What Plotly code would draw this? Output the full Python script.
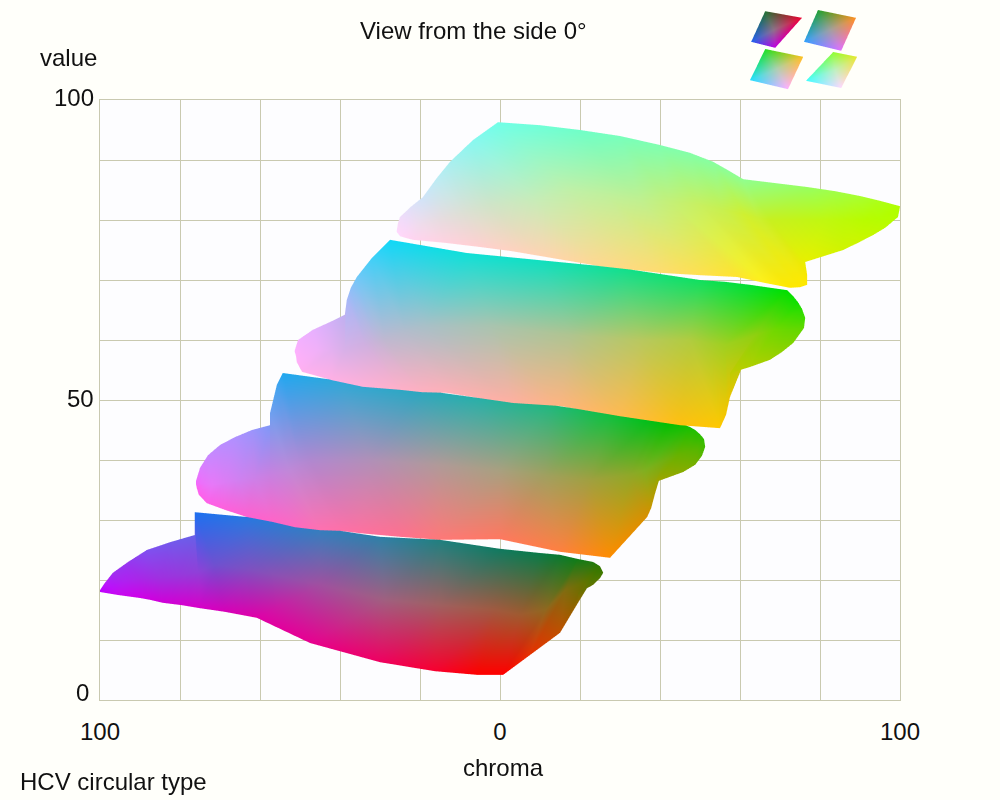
import plotly.graph_objects as go

# slabs are stored station by station, left to right: top, middle, bottom
slab1_chroma = [-100, -100, -100,
                -98.8, -97, -95.5,
                -96.8, -93.8, -90,
                -93, -90, -87.5,
                -88.3, -85, -84.3,
                -82.5, -80, -79.5,
                -76.3, -75.5, -75,
                -76.3, -71.3, -68.8,
                -63.3, -62.5, -60.8,
                -45, -45, -47.5,
                -30, -28.8, -30,
                -15, -15, -16.3,
                0, -1.3, -5.8,
                10, 5, 0.8,
                15, 11.3, 7.5,
                19.5, 16.3, 15,
                23.3, 21.3, 19.5,
                25, 23, 19.5,
                25.8, 25, 23.3]
slab1_value = [18.3, 18.2, 18,
               19.5, 18.7, 17.5,
               21.2, 19.7, 17,
               23, 20.3, 16.7,
               25, 20.3, 16.2,
               26.3, 20.8, 15.8,
               27.5, 21.3, 15.3,
               31.3, 22.5, 14.7,
               30.5, 21.7, 13.7,
               28.7, 19.2, 9.5,
               27.2, 16.7, 6.3,
               26.7, 15.8, 4.8,
               25.2, 15, 4.2,
               24.5, 14.2, 4.2,
               24.2, 15, 7.5,
               23.5, 18.3, 11.2,
               23, 19.7, 16.2,
               22.3, 20, 17.8,
               21.2, 20.3, 19.2]
slab1_colors = ['#c000ff', '#c000ff', '#c000ff',
                '#b818fc', '#bc10fa', '#c808f0',
                '#a030f0', '#b020f0', '#d000e8',
                '#9638f0', '#a828e8', '#d000e0',
                '#8050f0', '#a030e0', '#d000d8',
                '#7458ec', '#9838dc', '#d400d0',
                '#6860e8', '#9040d8', '#d800c8',
                '#1e70f0', '#7050d0', '#d800b8',
                '#2878e0', '#8050c0', '#e000a8',
                '#3080c0', '#a050a0', '#e80090',
                '#2f80a8', '#a06080', '#f00060',
                '#208080', '#a06060', '#f80030',
                '#107a60', '#a05a40', '#ff0000',
                '#0a7a48', '#a05a30', '#ff0000',
                '#0a7a30', '#906820', '#e83000',
                '#107c18', '#806c10', '#c05000',
                '#207a10', '#607400', '#906800',
                '#307800', '#507800', '#707000',
                '#407800', '#507800', '#607400']

slab2_chroma = [-76, -76, -75.8,
                -75, -74, -75.3,
                -73, -72, -73.3,
                -70, -68.5, -68.8,
                -66.3, -65, -63.3,
                -62, -61.3, -57,
                -57.5, -57.5, -51.3,
                -57.5, -52.5, -45,
                -55.8, -50, -40,
                -54.3, -47.5, -35,
                -40, -32.5, -25,
                -20, -15, -15,
                -5, 0, 0,
                12.5, 11.3, 15,
                27.5, 22.5, 27.5,
                37.5, 32.5, 36.8,
                40, 34.5, 37.8,
                42.5, 36.3, 38.8,
                46.3, 41.3, 38.8,
                47.5, 44.5, 42.5,
                48.8, 47, 45.8,
                50, 49.3, 48.8,
                51, 51.3, 50.5]
slab2_value = [36.5, 36, 35.3,
               38.7, 36, 34.2,
               40.8, 35.8, 32.8,
               42.5, 36.3, 31.7,
               43.8, 36.7, 30.5,
               45, 37, 29.7,
               45.8, 37.5, 28.8,
               47.8, 38.3, 28.3,
               52.5, 39.2, 28.2,
               54.5, 40, 27.8,
               53.2, 40, 27.2,
               51.7, 39.2, 26.7,
               50.3, 38.3, 26.8,
               49.2, 37.5, 24.7,
               47.7, 36.7, 23.7,
               46.7, 37.5, 30.5,
               46.5, 38, 32,
               46.3, 38.3, 34.5,
               45.8, 40, 36.3,
               45.5, 40.8, 37.2,
               45, 41.3, 38,
               44.3, 41.7, 39.2,
               43.5, 42.2, 40.7]
slab2_colors = ['#f070ff', '#f468fc', '#ff60f0',
                '#dc7cff', '#ec72fa', '#ff60ec',
                '#c888ff', '#e878f8', '#ff60e8',
                '#bc8cff', '#dc7cf4', '#ff60dc',
                '#b090ff', '#d080f0', '#ff60d0',
                '#9c94fc', '#cc80e8', '#ff64c8',
                '#8098f8', '#c880e0', '#ff68c0',
                '#70a0f0', '#c088d8', '#ff70b0',
                '#40a4f0', '#b888d4', '#ff70a8',
                '#20a8f0', '#b088d0', '#ff70a0',
                '#30a8d8', '#b090b8', '#ff7090',
                '#28a8c0', '#b09a98', '#ff7878',
                '#28b0a8', '#a8a080', '#ff7860',
                '#20b880', '#a0a060', '#ff8040',
                '#10c040', '#a0a040', '#ff8c00',
                '#00c018', '#90a828', '#d89000',
                '#00c00c', '#88ac24', '#c89600',
                '#00c000', '#80b020', '#b09c00',
                '#10c000', '#70b010', '#a0a400',
                '#18c000', '#68b200', '#94a800',
                '#20c000', '#60b400', '#88ac00',
                '#28be00', '#58b600', '#78ae00',
                '#30be00', '#40bc00', '#58b800']

slab3_chroma = [-51.3, -51.3, -51,
                -50.5, -49.5, -50.8,
                -46.8, -45.5, -49.5,
                -42.5, -42, -42,
                -38.8, -38.8, -34.3,
                -38.3, -33.8, -25,
                -37.3, -31.3, -19.5,
                -35.8, -28.8, -13.3,
                -32, -23.8, -5,
                -27.5, -18.8, 3.3,
                -8.3, -2.5, 15,
                10, 17.5, 30,
                30, 35, 45,
                50, 47.5, 55,
                56.3, 51.8, 56.5,
                62.5, 56.3, 57.5,
                71.8, 63.8, 57.5,
                73.3, 66.3, 62.5,
                74.5, 68.8, 67.5,
                75.5, 72, 70.5,
                76.3, 76, 73.3]
slab3_value = [58.3, 58, 57.3,
               60, 58, 56.3,
               61.7, 58.3, 54.7,
               63, 58.3, 53.3,
               64.2, 58.3, 52.2,
               66.7, 59.2, 51.7,
               68.7, 59.7, 51.3,
               70.5, 60, 51.2,
               73.7, 61.3, 50.3,
               76.7, 62.5, 49.5,
               74.5, 62.5, 49,
               73.3, 60.8, 47.3,
               72, 60, 45.8,
               70, 60, 45.3,
               69.7, 59.5, 47.5,
               69.2, 59.2, 50.5,
               68.3, 60.8, 54.5,
               67.3, 61.3, 55.5,
               66.3, 61.7, 56.7,
               65.2, 61.7, 58,
               63.7, 62, 59.5]
slab3_colors = ['#ffb0ff', '#ffb0ff', '#ffb0fc',
                '#f4b0ff', '#f8b0fa', '#ffb0f8',
                '#e8b0ff', '#f0b0f8', '#ffb0f0',
                '#d4b0f8', '#e4b0f0', '#ffb0e4',
                '#c0b0f0', '#d8b0e8', '#ffb0d8',
                '#a8b8f8', '#d0b0e0', '#ffb0c8',
                '#8cc0f8', '#c8b4d8', '#ffb0c0',
                '#70c8f8', '#c0b8d0', '#ffb0b8',
                '#40d0f8', '#b4bccc', '#ffb0ac',
                '#10d8f8', '#a8c0c8', '#ffb0a0',
                '#10e0d8', '#a8c4b0', '#ffb480',
                '#10e0c0', '#b0c490', '#ffba50',
                '#10e090', '#b8c860', '#ffc010',
                '#10e060', '#b0cc40', '#ffc800',
                '#08e048', '#a8ce30', '#f4c600',
                '#00e030', '#a0d020', '#e8c400',
                '#00e000', '#90d010', '#c0cc00',
                '#08e000', '#80d408', '#b0d000',
                '#10e000', '#70d800', '#a0d000',
                '#28de00', '#68d800', '#90d200',
                '#40dc00', '#60d800', '#80d400']

slab4_chroma = [-25.8, -25.8, -25,
                -25.5, -24.5, -23.5,
                -25, -23.8, -21.8,
                -22.3, -20, -13.8,
                -19.3, -15, -5,
                -15.8, -8.8, 3,
                -12.5, -2.5, 11.8,
                -6.8, 8.8, 25,
                -0.5, 17.5, 40,
                10, 26.3, 50,
                20, 35, 59.3,
                30, 42.5, 66.3,
                40, 50, 72.5,
                47.5, 55.5, 75,
                53.3, 61.3, 76.8,
                57, 64.5, 76.8,
                60.8, 67.5, 76.3,
                76.8, 81.3, 85.8,
                83.8, 86.3, 89.5,
                90, 91.3, 93.3,
                95, 95.5, 96.3,
                100, 99.8, 99.5]
slab4_value = [78.3, 78, 77.3,
               79.5, 78, 77,
               80.5, 78.3, 76.7,
               82.2, 79.2, 76.2,
               83.8, 80, 75.5,
               87, 81.3, 74.8,
               89.7, 82.5, 73.8,
               93.3, 83.3, 72.3,
               96.3, 85, 71.2,
               95.8, 84.2, 70.8,
               95, 83.3, 70.5,
               94, 83, 69.5,
               92.5, 82.5, 68.7,
               91.2, 81.7, 68.8,
               89.7, 80.8, 69.2,
               88.3, 80.3, 70.8,
               86.8, 80, 73,
               85.5, 80, 75,
               84.8, 80, 76.2,
               84, 80, 77.5,
               83.2, 80.3, 78.7,
               82.3, 81.5, 80.5]
slab4_colors = ['#ffd8ff', '#ffd8ff', '#ffd8fc',
                '#f8daf8', '#fcd8f8', '#ffd6f4',
                '#f0dcfa', '#fad8f8', '#ffd4f0',
                '#e0e0f8', '#f0dcec', '#ffd2e0',
                '#d0e4f8', '#e8dce0', '#ffd0d0',
                '#bcecf4', '#dce0d4', '#ffd2c0',
                '#a8f0f0', '#d0e4c8', '#ffd4b0',
                '#88f8f0', '#c8ecb8', '#ffd890',
                '#70ffe8', '#c0f0a8', '#ffdc70',
                '#70ffd8', '#c0f09c', '#ffe050',
                '#70ffc8', '#c0f090', '#ffe430',
                '#78ffbc', '#c4f078', '#fff018',
                '#80ffb0', '#c8f060', '#ffe800',
                '#84ffa8', '#c8f050', '#ffe800',
                '#88ffa0', '#d0f030', '#ffe800',
                '#8cff98', '#ccf030', '#f8e800',
                '#90ff90', '#c8f020', '#e8f000',
                '#98ff60', '#c0f810', '#d0f400',
                '#a0ff48', '#bcfa08', '#ccf600',
                '#a8ff30', '#b8fc00', '#c4f800',
                '#acff18', '#b4fe00', '#bcfb00',
                '#b0ff00', '#b0ff00', '#b0ff00']

# small previews in the top right corner: corners clockwise, then the centre
thumb_chroma = [[66.3, 75.5, 68.8, 62.8, 68.5],
                [79.5, 89, 85.3, 76, 82.5],
                [66.3, 75.8, 72, 62.5, 69.3],
                [83.3, 89.3, 85.3, 76.5, 83.8]]
thumb_value = [[114.8, 113.7, 108.7, 109.7, 111.7],
               [115, 113.7, 108.2, 109.7, 111.7],
               [108.5, 107.2, 101.8, 103.3, 105.2],
               [108, 107.2, 102, 103.2, 105]]
thumb_colors = [['#207030', '#f00030', '#c000e0', '#2060f0', '#907088'],
                ['#20a030', '#ff9020', '#e070ff', '#30a0ff', '#a0a0a0'],
                ['#20e020', '#ffc020', '#ffb0ff', '#20e0ff', '#b0d0b0'],
                ['#90ff30', '#e8e830', '#ffd8ff', '#40ffff', '#c0f0c0']]

chroma_ticks = [-100, -80, -60, -40, -20, 0, 20, 40, 60, 80, 100]
chroma_labels = ['100', '', '', '', '', '0', '', '', '', '', '100']
value_ticks = [0, 10, 20, 30, 40, 50, 60, 70, 80, 90, 100]
value_labels = [(100, '100', 0.0955, 3), (50, '50', 0.0955, 2), (0, '0', 0.0905, 8)]

FLAT = dict(ambient=1, diffuse=0, specular=0, roughness=1, fresnel=0)


def slab_mesh(chroma, value, colors):
    ii, jj, kk = [], [], []
    for c in range(len(chroma) // 3 - 1):
        for r in range(2):
            a = c * 3 + r
            ii += [a, a + 1]
            jj += [a + 3, a + 3]
            kk += [a + 1, a + 4]
    return go.Mesh3d(x=chroma, y=value, z=[0] * len(chroma), i=ii, j=jj, k=kk,
                     vertexcolor=colors, lighting=FLAT, hoverinfo='skip', showscale=False)


def thumb_mesh(chroma, value, colors):
    return go.Mesh3d(x=chroma, y=value, z=[0] * 5, i=[4, 4, 4, 4], j=[0, 1, 2, 3], k=[1, 2, 3, 0],
                     vertexcolor=colors, lighting=FLAT, hoverinfo='skip', showscale=False)


fig = go.Figure()
# invisible trace so the 2D axes with the grid get drawn
fig.add_trace(go.Scatter(x=[-100, 100], y=[0, 100], mode='markers', marker=dict(opacity=0),
                         hoverinfo='skip', showlegend=False))
fig.add_trace(slab_mesh(slab1_chroma, slab1_value, slab1_colors))
fig.add_trace(slab_mesh(slab2_chroma, slab2_value, slab2_colors))
fig.add_trace(slab_mesh(slab3_chroma, slab3_value, slab3_colors))
fig.add_trace(slab_mesh(slab4_chroma, slab4_value, slab4_colors))
for n in range(4):
    fig.add_trace(thumb_mesh(thumb_chroma[n], thumb_value[n], thumb_colors[n]))

font = dict(family='Liberation Sans', size=24, color='#111111')
annotations = [
    dict(text='View from the side 0°', x=0.473, y=1 - 31 / 800),
    dict(text='value', x=0.0685, y=1 - 57 / 800),
    dict(text='chroma', x=0.503, y=1 - 767 / 800),
    dict(text='HCV circular type', x=0.1135, y=1 - 781 / 800),
]
for v, label, lx, shift in value_labels:
    annotations.append(dict(text=label, x=lx, xanchor='right',
                            y=0.125 + 0.75 * v / 100, yshift=shift))
for a in annotations:
    a.update(xref='paper', yref='paper', showarrow=False, font=font, yanchor='middle')
    a.setdefault('xanchor', 'center')

fig.update_layout(
    width=1000, height=800, autosize=False,
    margin=dict(l=0, r=0, t=0, b=0, autoexpand=False),
    paper_bgcolor='#fffffa', plot_bgcolor='#fdfdff',
    showlegend=False,
    annotations=annotations,
    xaxis=dict(domain=[0.1, 0.9], range=[-100, 100], tickmode='array', tickvals=chroma_ticks,
               ticktext=chroma_labels, showgrid=True, gridcolor='#c9c9b0', gridwidth=1,
               zeroline=False, ticks='', ticklabelstandoff=10, tickfont=font,
               showline=True, linecolor='#c9c9b0', linewidth=1, mirror=True),
    yaxis=dict(domain=[0.125, 0.875], range=[0, 100], tickmode='array', tickvals=value_ticks,
               showticklabels=False, showgrid=True, gridcolor='#c9c9b0', gridwidth=1,
               zeroline=False, ticks='',
               showline=True, linecolor='#c9c9b0', linewidth=1, mirror=True),
    scene=dict(
        domain=dict(x=[0, 1], y=[0, 1]),
        xaxis=dict(visible=False, range=[-125, 125]),
        yaxis=dict(visible=False, range=[-16.667, 116.667]),
        zaxis=dict(visible=False, range=[-1, 1]),
        # orthographic zoom is set by the aspect ratio, not by the eye distance
        aspectmode='manual', aspectratio=dict(x=2.5, y=2, z=0.1),
        bgcolor='rgba(0,0,0,0)',
        camera=dict(eye=dict(x=0, y=0, z=1), up=dict(x=0, y=1, z=0),
                    center=dict(x=0, y=0, z=0), projection=dict(type='orthographic')),
    ),
)

fig.write_html("out.html", config=dict(displayModeBar=False),
               post_script="document.body.style.margin='0';")
